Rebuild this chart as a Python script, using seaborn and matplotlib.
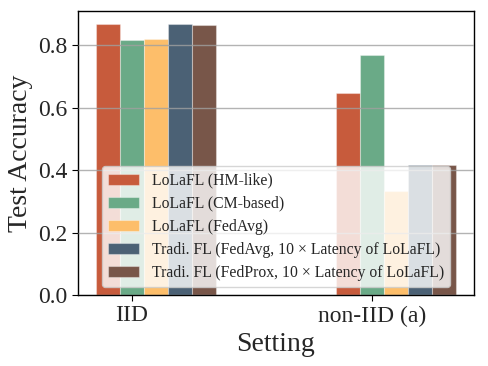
import matplotlib
matplotlib.use("Agg")
import matplotlib.pyplot as plt
import seaborn as sns
import pandas as pd

settings = ["IID", "non-IID (a)"]
methods = [
    "LoLaFL (HM-like)",
    "LoLaFL (CM-based)",
    "LoLaFL (FedAvg)",
    "Tradi. FL (FedAvg, 10 × Latency of LoLaFL)",
    "Tradi. FL (FedProx, 10 × Latency of LoLaFL)",
]
iid_acc = [0.867, 0.816, 0.821, 0.867, 0.866]
noniid_acc = [0.648, 0.768, 0.332, 0.415, 0.418]
colors = ["#C75B3C", "#6AAA87", "#FDBE6A", "#4B6175", "#785649"]

rows = []
for m, a in zip(methods, iid_acc):
    rows.append({"Setting": settings[0], "Method": m, "Acc": a})
for m, a in zip(methods, noniid_acc):
    rows.append({"Setting": settings[1], "Method": m, "Acc": a})
df = pd.DataFrame(rows)

sns.set_style("white")
plt.rcParams["font.family"] = ["Liberation Serif", "DejaVu Serif"]
plt.rcParams["mathtext.fontset"] = "stix"

fig = plt.figure(figsize=(4.88, 3.66), dpi=100)
ax = fig.add_axes([0.160, 0.194, 0.811, 0.776])

sns.barplot(data=df, x="Setting", y="Acc", hue="Method", hue_order=methods,
            order=settings, palette=colors, width=0.5, gap=0,
            edgecolor=(1, 1, 1, 0.35), linewidth=0.8, saturation=1,
            errorbar=None, ax=ax)

ax.set_xlim(-0.325, 1.325)
ax.set_ylim(0, 0.91)
ax.set_xticks([-0.1, 0.9])
ax.set_xticklabels(settings)
ax.set_yticks([0.0, 0.2, 0.4, 0.6, 0.8])
ax.set_yticklabels(["0.0", "0.2", "0.4", "0.6", "0.8"])
ax.tick_params(axis="both", labelsize=17, length=4, width=0.8, color="black",
               bottom=True, left=True, direction="out")
ax.set_xlabel("Setting", fontsize=20)
ax.set_ylabel("Test Accuracy", fontsize=20)

ax.set_axisbelow(False)
ax.yaxis.grid(True, color="#a0a0a0", linewidth=1.0, alpha=0.8)
ax.xaxis.grid(False)
for s in ax.spines.values():
    s.set_visible(True)
    s.set_color("black")
    s.set_linewidth(1.0)

ax.legend(loc="lower center", fontsize=11.3, framealpha=0.8, frameon=True,
          fancybox=True, borderaxespad=0.5, labelspacing=0.45)

fig.savefig("out.png", dpi=100)
